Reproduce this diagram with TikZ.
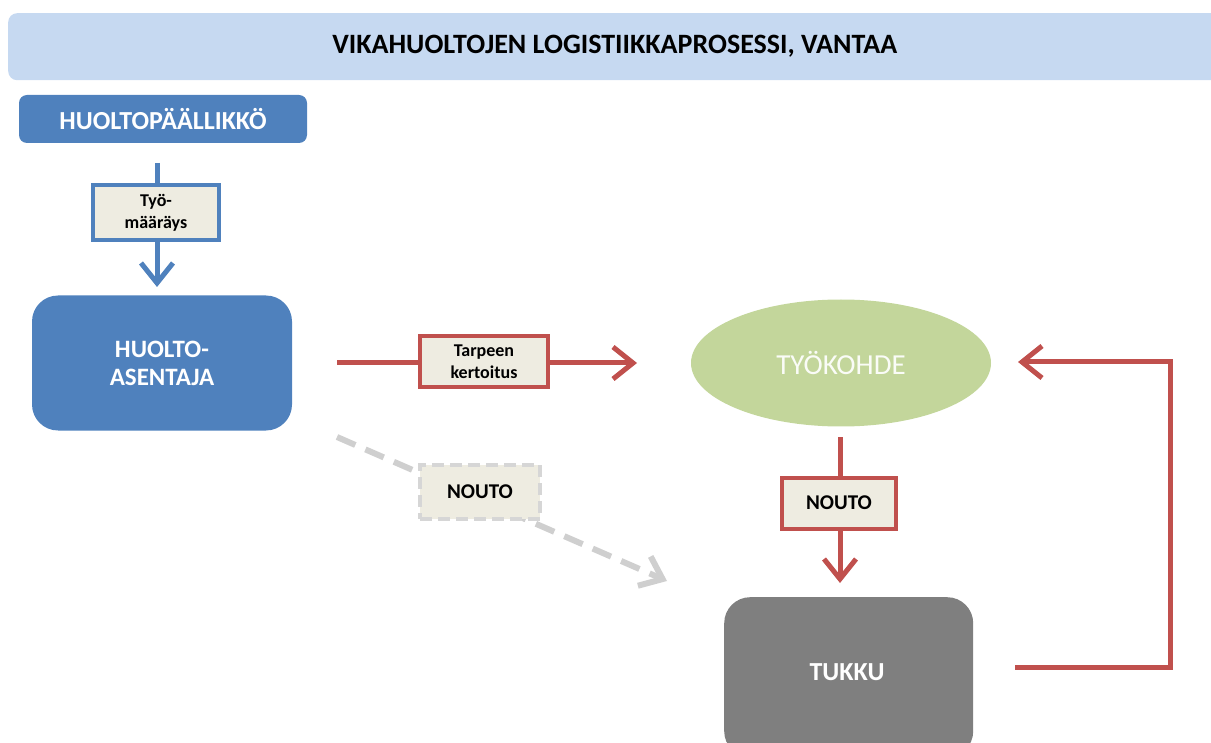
\documentclass[tikz,border=0pt]{standalone}
\usepackage{fontspec}
\setmainfont{Carlito}
\usetikzlibrary{arrows.meta,shapes.geometric}
\definecolor{titlefill}{HTML}{C6D9F1}
\definecolor{bluebox}{HTML}{4F81BD}
\definecolor{tagfill}{HTML}{EEECE1}
\definecolor{redline}{HTML}{C0504D}
\definecolor{greenfill}{HTML}{C3D69B}
\definecolor{greybox}{HTML}{7F7F7F}
\definecolor{dashgrey}{HTML}{CFCFCF}
\tikzset{
  bluebox/.style={fill=bluebox, draw=none, text=white, align=center,
    font=\bfseries\fontsize{26}{28}\selectfont},
  tagbox/.style={fill=tagfill, line width=4pt, align=center, inner sep=0pt,
    font=\bfseries\fontsize{18}{22}\selectfont},
  barb/.style={-{Straight Barb[length=20pt,width=32pt]}},
  flowred/.style={draw=redline, line width=5pt, barb},
  flowblue/.style={draw=bluebox, line width=5pt, barb},
}
\begin{document}
\begin{tikzpicture}[x=1pt,y=-1pt]
\useasboundingbox (0,0) rectangle (1211,743);

% title banner
\node (title) [fill=titlefill, rounded corners=9pt, minimum width=1213pt,
  minimum height=67pt, anchor=north west, inner sep=0pt,
  font=\bfseries\fontsize{28}{30}\selectfont] at (8,13)
  {VIKAHUOLTOJEN LOGISTIIKKAPROSESSI, VANTAA};

% actors and places
\node (paallikko) [bluebox, rounded corners=8pt, minimum width=288pt,
  minimum height=48pt, inner sep=0pt] at (163,119) {HUOLTOPÄÄLLIKKÖ};
\node (asentaja) [bluebox, rounded corners=26pt, minimum width=260pt,
  minimum height=135pt, inner sep=0pt,
  font=\bfseries\fontsize{25}{28}\selectfont] at (162,363) {HUOLTO-\\ASENTAJA};
\node (tyokohde) [ellipse, fill=greenfill, minimum width=300pt,
  minimum height=127pt, inner sep=0pt, text=white!92!greenfill,
  font=\fontsize{29}{30}\selectfont] at (841,363) {TYÖKOHDE};
\node (tukku) [fill=greybox, rounded corners=26pt, minimum width=249pt,
  minimum height=160pt, inner sep=0pt, anchor=north west] at (724,597) {};
\node (tukkutxt) [text=white, font=\bfseries\fontsize{26}{28}\selectfont]
  at (847,672) {TUKKU};

% free ends of the connectors
\coordinate (b1) at (157,163);
\coordinate (b2) at (157,287);
\coordinate (r1) at (337,363);
\coordinate (r2) at (637,363);
\coordinate (n1) at (840,437);
\coordinate (n2) at (840,583);
\coordinate (g1) at (337,437);
\coordinate (g2) at (667,581);
\coordinate (l1) at (1015,667);
\coordinate (l2) at (1170,667);
\coordinate (l3) at (1170,362);
\coordinate (l4) at (1018,362);

% work order from manager to technician
\draw[flowblue] (b1) -- (b2);
\node (tyomaarays) [tagbox, draw=bluebox, minimum width=126pt, minimum height=55pt]
  at (156,213) {Työ-\\määräys};

% need survey towards the site
\draw[flowred] (r1) -- (r2);
\node (tarve) [tagbox, draw=redline, minimum width=128pt, minimum height=51pt]
  at (484,362) {Tarpeen\\kertoitus};

% pick-up from site to wholesaler
\draw[flowred] (n1) -- (n2);
\node (nouto) [tagbox, draw=redline, minimum width=114pt, minimum height=51pt,
  font=\bfseries\fontsize{21}{22}\selectfont]
  at (839,503) {NOUTO};

% optional pick-up by the technician
\draw[draw=dashgrey, line width=6pt, dash pattern=on 20pt off 11pt,
  -{Straight Barb[length=20pt,width=32pt]}] (g1) -- (g2);
\node (noutoopt) [tagbox, draw=dashgrey!85!white, line width=3.5pt,
  dash pattern=on 12pt off 6pt, minimum width=120pt, minimum height=54pt,
  font=\bfseries\fontsize{21}{22}\selectfont]
  at (480,492) {NOUTO};

% delivery back to the site
\draw[flowred] (l1) -- (l2) -- (l3) -- (l4);
\end{tikzpicture}
\end{document}
